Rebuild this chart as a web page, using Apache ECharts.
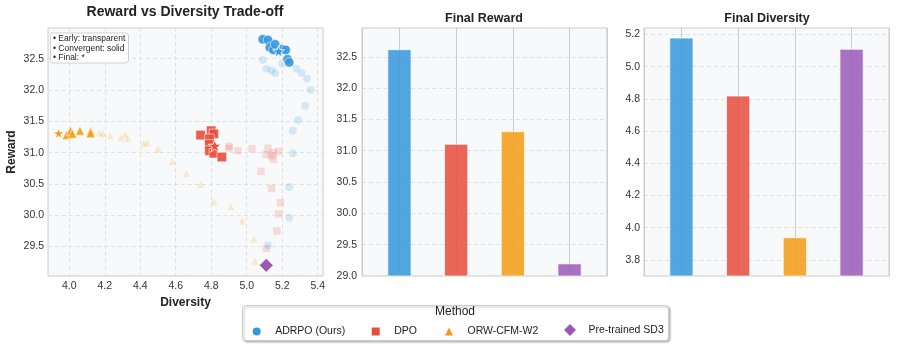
<!DOCTYPE html>
<html>
<head>
<meta charset="utf-8">
<script src="https://cdn.jsdelivr.net/npm/echarts@6/dist/echarts.min.js"></script>
<style>
  html, body { margin: 0; padding: 0; background: #fff; }
  #chart { width: 897px; height: 347px; }
</style>
</head>
<body>
<div id="chart"></div>
<script>
// methods and final values
const methods = ["ADRPO (Ours)", "DPO", "ORW-CFM-W2", "Pre-trained SD3"];
const colors = ["#3498db", "#e74c3c", "#f39c12", "#9b59b6"];
const finalReward = [32.62, 31.11, 31.31, 29.2];
const finalDiversity = [5.18, 4.82, 3.94, 5.11];

// trajectory points [diversity, reward]
const adrpoEarly = [
  [5.09, 32.48], [5.11, 32.34], [5.14, 32.31], [5.16, 32.27], [5.20, 32.42],
  [5.28, 32.34], [5.31, 32.27], [5.34, 32.18], [5.36, 32.0], [5.33, 31.75],
  [5.29, 31.52], [5.26, 31.35], [5.26, 30.99], [5.24, 30.45], [5.24, 29.96],
  [5.12, 29.52]
];
const adrpoConv = [
  [5.09, 32.81], [5.12, 32.80], [5.13, 32.68], [5.15, 32.64], [5.16, 32.73],
  [5.20, 32.65], [5.22, 32.64], [5.23, 32.49], [5.24, 32.44]
];
const dpoEarly = [
  [4.90, 31.10], [4.90, 31.07], [4.95, 31.03], [5.03, 31.06], [5.12, 31.07],
  [5.11, 30.97], [5.15, 31.00], [5.18, 31.02], [5.14, 30.95], [5.15, 30.89],
  [5.08, 30.70], [5.14, 30.43], [5.19, 30.20], [5.18, 30.02], [5.17, 29.75],
  [5.11, 29.47]
];
const dpoConv = [
  [4.74, 31.28], [4.80, 31.35], [4.815, 31.30], [4.79, 31.22], [4.79, 31.13],
  [4.79, 31.03], [4.815, 30.99], [4.86, 30.93]
];
const orwEarly = [
  [4.12, 31.30], [4.17, 31.32], [4.19, 31.31], [4.23, 31.27], [4.29, 31.24],
  [4.315, 31.29], [4.33, 31.22], [4.42, 31.14], [4.44, 31.16], [4.50, 31.06],
  [4.58, 30.86], [4.66, 30.67], [4.74, 30.50], [4.815, 30.22], [4.91, 30.14],
  [4.975, 29.91], [5.04, 29.62], [5.045, 29.27]
];
const orwConv = [
  [3.985, 31.28], [4.007, 31.35], [4.017, 31.30], [4.06, 31.35], [4.12, 31.34],
  [4.12, 31.31]
];

const axisText = { color: "#333", fontSize: 10.5, fontFamily: "Liberation Sans" };
const dashed = { show: true, lineStyle: { color: "#e1e1e1", type: [4, 3], width: 1 } };
const fmt1 = v => v.toFixed(1);
const starPath = "path://M50,0 L61,35 L98,35 L68,57 L79,91 L50,70 L21,91 L32,57 L2,35 L39,35 Z";

function pts(data, i, symbol, size, opacity, z) {
  return {
    name: methods[i], type: "scatter", xAxisIndex: 0, yAxisIndex: 0,
    data: data, symbol: symbol, symbolSize: size, z: z,
    itemStyle: { color: colors[i], opacity: opacity, borderColor: "#fff", borderWidth: 0.6 },
    emphasis: { disabled: true }
  };
}

function star(i, size) {
  return {
    name: methods[i], type: "scatter", xAxisIndex: 0, yAxisIndex: 0,
    data: [[finalDiversity[i], finalReward[i]]], symbol: starPath,
    symbolSize: size, z: 5,
    itemStyle: { color: colors[i], opacity: 1, borderColor: "#fff", borderWidth: 0.8 }
  };
}

function barSeries(values, ax) {
  return {
    name: "bar" + ax, type: "bar", xAxisIndex: ax, yAxisIndex: ax, barWidth: 24,
    data: values.map((v, i) => ({
      value: [i, v],
      itemStyle: { color: colors[i], opacity: 0.85, borderColor: "#fff", borderWidth: 0.8 }
    }))
  };
}

const gridBase = { show: true, backgroundColor: "#f8f9fa", borderColor: "#cccccc", borderWidth: 1, top: 28, height: 248 };

// one legend per method so each icon keeps its own size
function legendItem(i, icon, size, center) {
  return {
    left: center - size / 2, top: 330 - size / 2, itemWidth: size, itemHeight: size, padding: 0,
    icon: icon, selectedMode: false,
    data: [{ name: methods[i], itemStyle: { color: colors[i], opacity: 1, borderWidth: 0 } }],
    textStyle: { fontSize: 10.5, color: "#222", fontFamily: "Liberation Sans",
      padding: [0, 0, 0, 18.5 - size / 2 - 5] }
  };
}

const chart = echarts.init(document.getElementById("chart"), null, { renderer: "canvas" });
chart.setOption({
  animation: false,
  backgroundColor: "#ffffff",
  title: [
    { text: "Reward vs Diversity Trade-off", left: 185, top: 5, textAlign: "center", padding: 0,
      textStyle: { fontSize: 14, fontWeight: "bold", color: "#222", fontFamily: "Liberation Sans" } },
    { text: "Final Reward", left: 484, top: 12, textAlign: "center", padding: 0,
      textStyle: { fontSize: 12.5, fontWeight: "bold", color: "#222", fontFamily: "Liberation Sans" } },
    { text: "Final Diversity", left: 767, top: 12, textAlign: "center", padding: 0,
      textStyle: { fontSize: 12.5, fontWeight: "bold", color: "#222", fontFamily: "Liberation Sans" } },
    { text: "• Early: transparent\n• Convergent: solid\n• Final: *", left: 50, top: 32.5,
      padding: [2, 3, 1, 3], backgroundColor: "rgba(255,255,255,0.9)", borderColor: "#cfcfcf",
      borderWidth: 1, borderRadius: 3,
      textStyle: { fontSize: 8.5, fontWeight: "normal", lineHeight: 9.3, color: "#222", fontFamily: "Liberation Sans" } },
    { text: "Method", left: 455, top: 306, textAlign: "center", padding: 0,
      textStyle: { fontSize: 12, fontWeight: "normal", color: "#222", fontFamily: "Liberation Sans" } }
  ],
  graphic: [
    { type: "rect", left: 242, top: 305, z: -1,
      shape: { width: 426, height: 35, r: 3 },
      style: { fill: "#fff", stroke: "#cccccc", lineWidth: 1,
        shadowColor: "rgba(0,0,0,0.25)", shadowBlur: 2, shadowOffsetX: 1.5, shadowOffsetY: 1.5 } }
  ],
  legend: [
    legendItem(0, "circle", 8, 256.7),
    legendItem(1, "rect", 8, 375.7),
    legendItem(2, "triangle", 8, 449),
    legendItem(3, "diamond", 12, 570)
  ],
  grid: [
    Object.assign({ left: 48, width: 275 }, gridBase),
    Object.assign({ left: 362, width: 245 }, gridBase),
    Object.assign({ left: 644, width: 245 }, gridBase)
  ],
  xAxis: [
    { type: "value", gridIndex: 0, min: 3.88, max: 5.43, minInterval: 0.2, maxInterval: 0.2,
      name: "Diversity", nameLocation: "middle", nameGap: 16,
      nameTextStyle: { fontSize: 12, fontWeight: "bold", color: "#222", fontFamily: "Liberation Sans" },
      axisLine: { show: false }, axisTick: { show: false },
      axisLabel: Object.assign({ formatter: fmt1, showMinLabel: false, showMaxLabel: false, margin: 5 }, axisText),
      splitLine: dashed },
    { type: "value", gridIndex: 1, min: -0.66, max: 3.66, minInterval: 1, maxInterval: 1,
      axisLine: { show: false }, axisTick: { show: false }, axisLabel: { show: false },
      splitLine: { show: true, lineStyle: { color: "#cccccc", width: 1 } } },
    { type: "value", gridIndex: 2, min: -0.66, max: 3.66, minInterval: 1, maxInterval: 1,
      axisLine: { show: false }, axisTick: { show: false }, axisLabel: { show: false },
      splitLine: { show: true, lineStyle: { color: "#cccccc", width: 1 } } }
  ],
  yAxis: [
    { type: "value", gridIndex: 0, min: 29.03, max: 32.99, minInterval: 0.5, maxInterval: 0.5,
      name: "Reward", nameLocation: "middle", nameGap: 30,
      nameTextStyle: { fontSize: 12, fontWeight: "bold", color: "#222", fontFamily: "Liberation Sans" },
      axisLine: { show: false }, axisTick: { show: false },
      axisLabel: Object.assign({ formatter: fmt1, showMinLabel: false, showMaxLabel: false, margin: 4 }, axisText),
      splitLine: dashed },
    { type: "value", gridIndex: 1, min: 29.0, max: 32.96, minInterval: 0.5, maxInterval: 0.5,
      axisLine: { show: false }, axisTick: { show: false },
      axisLabel: Object.assign({ formatter: fmt1, showMinLabel: true, showMaxLabel: false, margin: 5 }, axisText),
      splitLine: dashed },
    { type: "value", gridIndex: 2, min: 3.70, max: 5.24, minInterval: 0.2, maxInterval: 0.2,
      axisLine: { show: false }, axisTick: { show: false },
      axisLabel: Object.assign({ formatter: fmt1, showMinLabel: false, showMaxLabel: false, margin: 4 }, axisText),
      splitLine: dashed }
  ],
  series: [
    pts(orwEarly, 2, "triangle", 7.5, 0.18, 2),
    pts(dpoEarly, 1, "rect", 7.5, 0.18, 2),
    pts(adrpoEarly, 0, "circle", 8, 0.18, 2),
    pts(orwConv, 2, "triangle", 9, 0.9, 3),
    pts(dpoConv, 1, "rect", 9.5, 0.9, 3),
    pts(adrpoConv, 0, "circle", 9.5, 0.9, 3),
    star(2, 11), star(1, 13), star(0, 12),
    {
      name: methods[3], type: "scatter", xAxisIndex: 0, yAxisIndex: 0,
      data: [[finalDiversity[3], finalReward[3]]], symbol: "diamond", symbolSize: 14, z: 5,
      itemStyle: { color: colors[3], opacity: 1, borderColor: "#fff", borderWidth: 0.8 }
    },
    barSeries(finalReward, 1),
    barSeries(finalDiversity, 2)
  ]
});
</script>
</body>
</html>
